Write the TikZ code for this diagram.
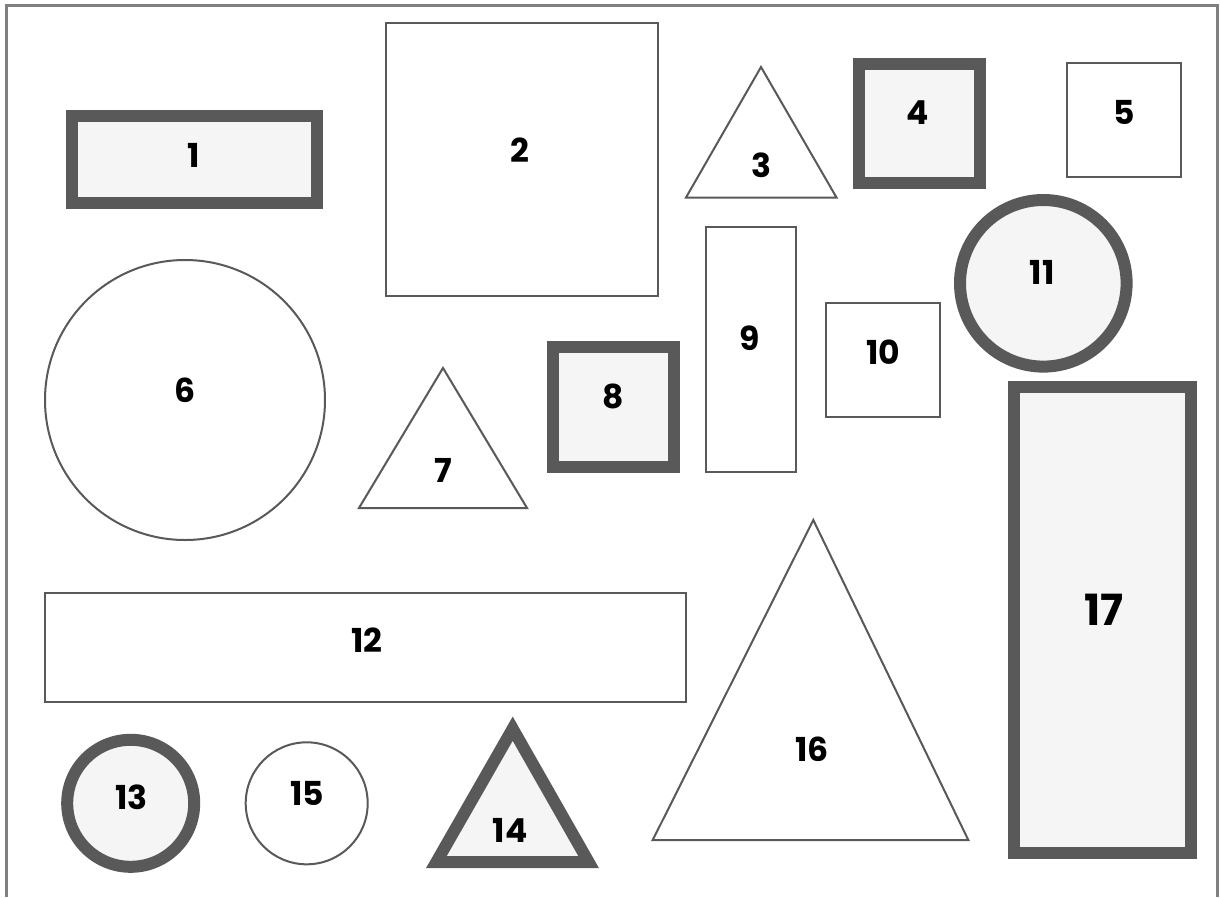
\documentclass[tikz,border=0pt]{standalone}
\usepackage{fontspec}
\setmainfont{Poppins}
\definecolor{edge}{HTML}{595959}
\definecolor{shade}{HTML}{F5F5F5}
\definecolor{framec}{HTML}{808080}
\begin{document}
\begin{tikzpicture}[x=1pt,y=-1pt,
  thin shape/.style={draw=edge,line width=2pt,fill=white},
  thick shape/.style={draw=edge,line width=12pt,fill=shade},
  lab/.style={inner sep=0pt,font=\fontsize{33}{33}\selectfont\bfseries,text=black},
  biglab/.style={inner sep=0pt,font=\fontsize{43}{43}\selectfont\bfseries,text=black}]
\useasboundingbox (0,0) rectangle (1220,897);
\fill[white] (0,0) rectangle (1220,897);
% frame
\draw[framec,line width=3pt] (6.5,897) -- (6.5,5.7) -- (1217.8,5.7) -- (1217.8,897);
% shapes
\draw[thick shape] (72,116) rectangle (317,203);
\draw[thin shape] (386,23) rectangle (658,296);
\draw[thin shape] (761,67) -- (836.5,197.5) -- (686,197.5) -- cycle;
\draw[thick shape] (859,64) rectangle (979.5,183.3);
\draw[thin shape] (1067,63.3) rectangle (1181,177);
\draw[thin shape] (185,400) circle[radius=140pt];
\draw[thin shape] (443,368) -- (527,508) -- (359,508) -- cycle;
\draw[thick shape] (553.3,346.7) rectangle (674,467.3);
\draw[thin shape] (706,227) rectangle (796,472);
\draw[thin shape] (826,303) rectangle (940,417);
\draw[thick shape] (1043.3,283.3) circle[radius=83.3pt];
\draw[thin shape] (45,593) rectangle (686,702);
\draw[thick shape] (130.7,803.3) circle[radius=63.5pt];
\draw[thick shape,line join=miter] (512.7,728.7) -- (588.6,862) -- (436.4,862) -- cycle;
\draw[thin shape] (306.7,803.3) circle[radius=61pt];
\draw[thin shape] (813.3,520) -- (968.3,840) -- (652.7,840) -- cycle;
\draw[thick shape] (1014.3,386.7) rectangle (1190.7,853.3);
% labels
\node[lab] (l1) at (194,155) {1};
\node[lab] (l2) at (520,150) {2};
\node[lab] (l3) at (761,165) {3};
\node[lab] (l4) at (918,113) {4};
\node[lab] (l5) at (1124,112) {5};
\node[lab] (l6) at (185,390) {6};
\node[lab] (l7) at (443,470) {7};
\node[lab] (l8) at (612.7,396.7) {8};
\node[lab] (l9) at (750,338) {9};
\node[lab] (l10) at (883,352) {10};
\node[lab] (l11) at (1042,272) {11};
\node[lab] (l12) at (367,640) {12};
\node[lab] (l13) at (131.7,797.7) {13};
\node[lab] (l14) at (510,830) {14};
\node[lab] (l15) at (307.3,793.3) {15};
\node[lab] (l16) at (812,749) {16};
\node[biglab] (l17) at (1104,610) {17};
\end{tikzpicture}
\end{document}
